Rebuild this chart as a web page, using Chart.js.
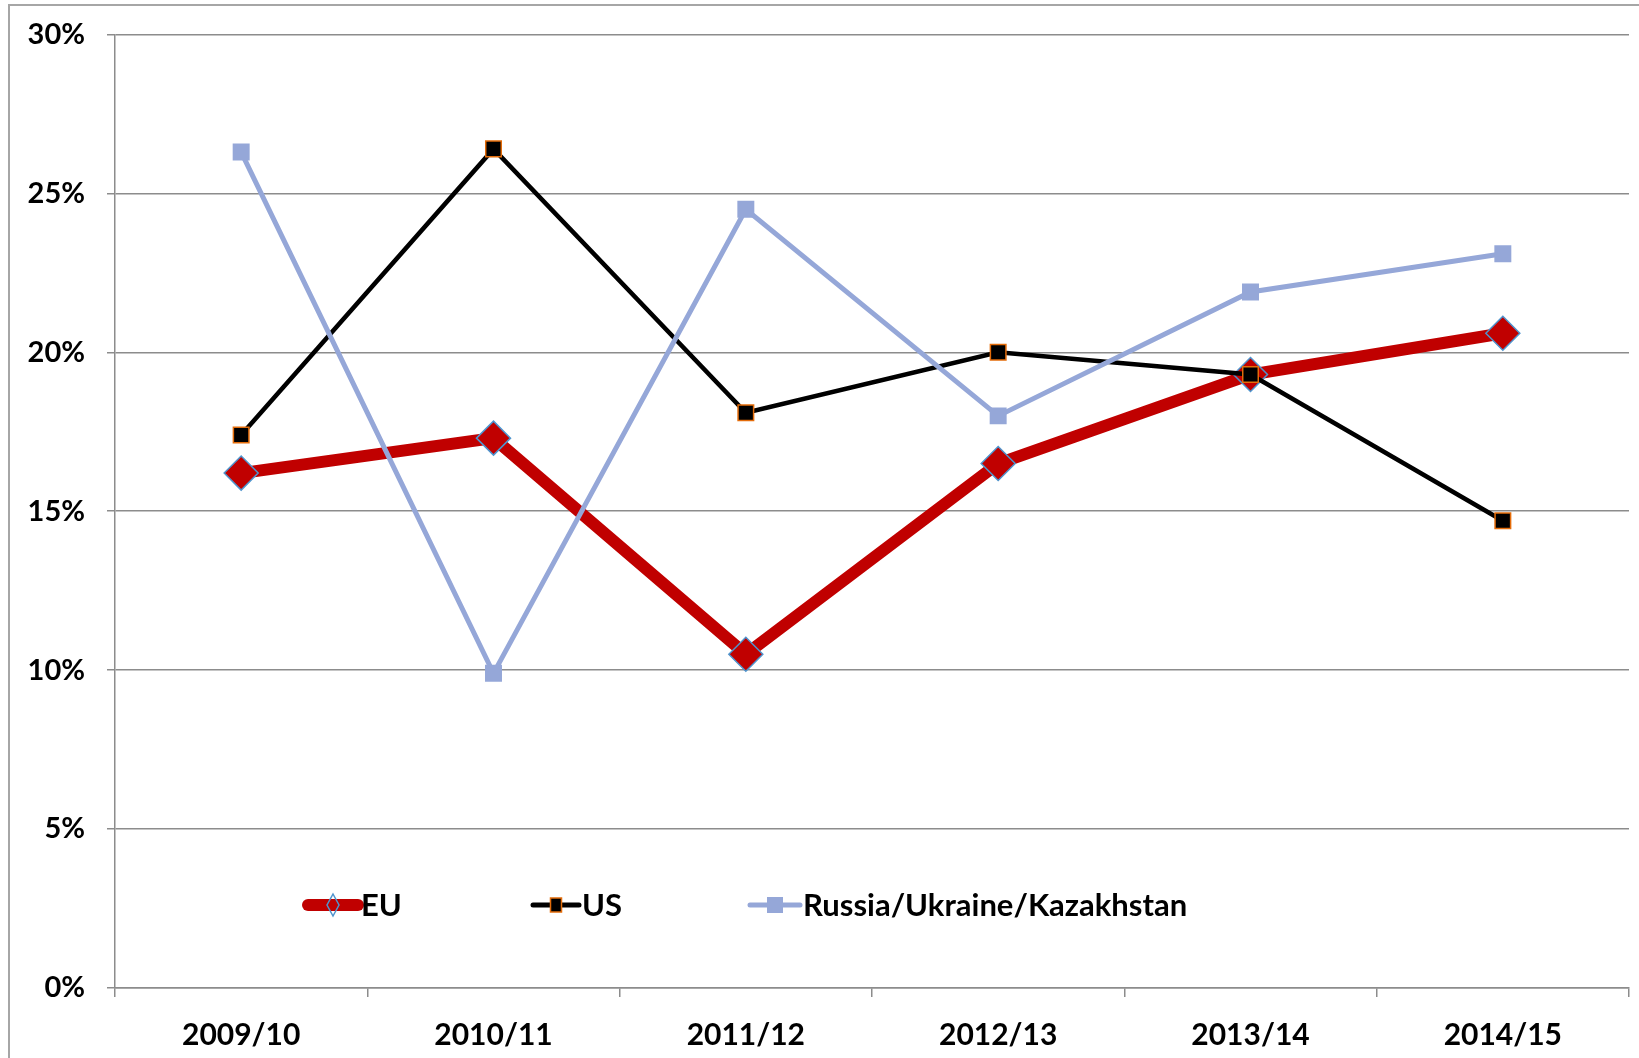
<!DOCTYPE html>
<html>
<head>
<meta charset="utf-8">
<script src="https://cdn.jsdelivr.net/npm/chart.js@4.4.0/dist/chart.umd.min.js"></script>
<style>
  html, body { margin: 0; padding: 0; background: #fff; overflow: hidden; }
  #wrap { width: 1639px; height: 1058px; position: relative; }
</style>
</head>
<body>
<div id="wrap"><canvas id="shareChart"></canvas></div>
<script>
const seasons = ['2009/10', '2010/11', '2011/12', '2012/13', '2013/14', '2014/15'];
const euShare = [16.2, 17.3, 10.5, 16.5, 19.3, 20.6];
const usShare = [17.4, 26.4, 18.1, 20.0, 19.3, 14.7];
const rukShare = [26.3, 9.9, 24.5, 18.0, 21.9, 23.1];
const yTicks = [0, 5, 10, 15, 20, 25, 30];

const FONT = 'Lato, "Open Sans", sans-serif';

// outer frame like the Excel chart area
const framePlugin = {
    id: 'frame',
    beforeDraw(chart) {
        const c = chart.ctx;
        c.save();
        c.strokeStyle = '#a6a6a6';
        c.lineWidth = 2;
        c.strokeRect(9, 5, chart.width + 20, chart.height + 20);
        c.restore();
    }
};

// legend drawn inside the plot, near the bottom
const legendPlugin = {
    id: 'inlineLegend',
    afterDatasetsDraw(chart) {
        const c = chart.ctx;
        const y = 905;
        const items = [
            { ds: 0, x: 308, w: 50, lw: 12 },
            { ds: 1, x: 533, w: 46, lw: 5 },
            { ds: 2, x: 750, w: 50, lw: 5 }
        ];
        c.save();
        items.forEach(it => {
            const ds = chart.data.datasets[it.ds];
            c.strokeStyle = ds.borderColor;
            c.lineWidth = it.lw;
            c.lineCap = 'round';
            c.beginPath();
            c.moveTo(it.x, y);
            c.lineTo(it.x + it.w, y);
            c.stroke();
            const cx = it.x + it.w / 2;
            c.strokeStyle = ds.pointBorderColor;
            c.lineWidth = ds.pointBorderWidth;
            c.lineCap = 'butt';
            if (ds.pointStyle === 'rectRot') {
                c.beginPath();
                c.moveTo(cx, y - 11);
                c.lineTo(cx + 6, y);
                c.lineTo(cx, y + 11);
                c.lineTo(cx - 6, y);
                c.closePath();
                c.stroke();
            } else {
                const s = it.ds === 1 ? 7 : 8;
                const h = it.ds === 1 ? 5.5 : 8;
                c.fillStyle = ds.pointBackgroundColor;
                c.fillRect(cx - h, y - s, 2 * h, 2 * s);
                if (ds.pointBorderWidth) c.strokeRect(cx - h, y - s, 2 * h, 2 * s);
            }
            c.fillStyle = '#000';
            c.font = 'bold 31px ' + FONT;
            c.textBaseline = 'middle';
            c.textAlign = 'left';
            c.fillText(ds.label, it.x + it.w + 3, y + 1);
        });
        c.restore();
    }
};

new Chart(document.getElementById('shareChart'), {
    type: 'line',
    data: {
        labels: seasons,
        datasets: [
            {
                label: 'EU',
                data: euShare,
                borderColor: '#C00000',
                borderWidth: 12,
                pointStyle: 'rectRot',
                pointRadius: 17,
                pointBackgroundColor: '#C00000',
                pointBorderColor: '#4F94CD',
                pointBorderWidth: 1.5,
                order: 2
            },
            {
                label: 'US',
                data: usShare,
                borderColor: '#000000',
                borderWidth: 4.5,
                pointStyle: 'rect',
                pointRadius: 11,
                pointBackgroundColor: '#000000',
                pointBorderColor: '#E46C0A',
                pointBorderWidth: 1.5,
                order: 1
            },
            {
                label: 'Russia/Ukraine/Kazakhstan',
                data: rukShare,
                borderColor: '#95A7D8',
                borderWidth: 5,
                pointStyle: 'rect',
                pointRadius: 12,
                pointBackgroundColor: '#95A7D8',
                pointBorderColor: '#95A7D8',
                pointBorderWidth: 0,
                order: 0
            }
        ]
    },
    options: {
        responsive: true,
        maintainAspectRatio: false,
        animation: false,
        layout: {
            autoPadding: false,
            padding: { top: 31, right: 10, bottom: 0, left: 0 }
        },
        plugins: {
            legend: { display: false },
            tooltip: { enabled: false }
        },
        elements: {
            line: { tension: 0, borderJoinStyle: 'miter' }
        },
        scales: {
            x: {
                offset: true,
                grid: {
                    offset: true,
                    drawOnChartArea: false,
                    drawTicks: true,
                    tickLength: 9,
                    color: '#8c8c8c',
                    lineWidth: 1.5
                },
                border: { color: '#8c8c8c', width: 1.5 },
                ticks: {
                    color: '#000',
                    padding: 20,
                    font: { family: FONT, size: 30, weight: 'bold' }
                },
                afterFit(scale) { scale.height = 70; }
            },
            y: {
                min: 0,
                max: 30,
                afterBuildTicks(scale) {
                    scale.ticks = yTicks.map(v => ({ value: v }));
                },
                grid: {
                    color: '#8c8c8c',
                    lineWidth: 1.5,
                    tickLength: 8
                },
                border: { color: '#8c8c8c', width: 1.5 },
                ticks: {
                    color: '#000',
                    padding: 22,
                    // small line height keeps the top of the plot where the reference has it
                    font: { family: FONT, size: 29, weight: 'bold', lineHeight: 0.86 },
                    callback: v => v + '%'
                },
                afterFit(scale) { scale.width = 115; }
            }
        }
    },
    plugins: [framePlugin, legendPlugin]
});
</script>
</body>
</html>
